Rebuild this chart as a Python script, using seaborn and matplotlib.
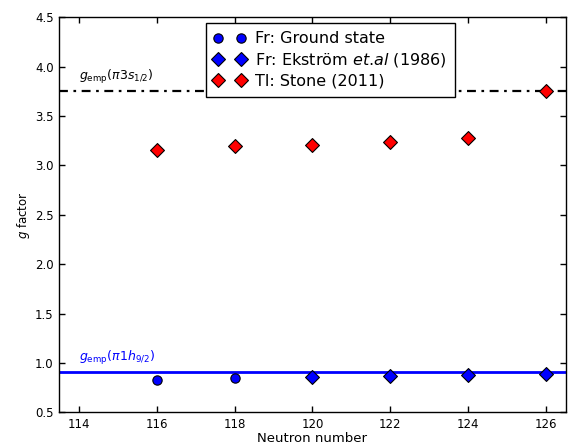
import matplotlib
matplotlib.use("Agg")
import matplotlib.pyplot as plt
from matplotlib.lines import Line2D
import seaborn as sns
import pandas as pd

# Measured g factors versus neutron number
fr_gs_n = [116, 118]
fr_gs_g = [0.83, 0.85]
fr_ek_n = [120, 122, 124, 126]
fr_ek_g = [0.86, 0.87, 0.88, 0.89]
tl_n = [116, 118, 120, 122, 124, 126]
tl_g = [3.16, 3.20, 3.21, 3.24, 3.28, 3.75]

# Empirical single-particle g factors
g_emp_h92 = 0.91
g_emp_s12 = 3.75

series_labels = ["Fr: Ground state", r"Fr: Ekström $et$.$al$ (1986)", "Tl: Stone (2011)"]

sns.set_style("ticks")
plt.rcParams["font.family"] = ["DejaVu Sans"]
plt.rcParams["mathtext.fontset"] = "dejavusans"
plt.rcParams["text.color"] = "black"
plt.rcParams["axes.labelcolor"] = "black"

fig = plt.figure(figsize=(5.74, 4.47), dpi=100)
ax = fig.add_axes([0.1033, 0.0776, 0.8822, 0.8837])

df = pd.concat([
    pd.DataFrame({"N": fr_gs_n, "g": fr_gs_g, "set": series_labels[0]}),
    pd.DataFrame({"N": fr_ek_n, "g": fr_ek_g, "set": series_labels[1]}),
    pd.DataFrame({"N": tl_n, "g": tl_g, "set": series_labels[2]}),
])

styles = [("o", "#0000ff", 45), ("D", "#0000ff", 50), ("D", "#ff0000", 50)]
handles = []
for lab, (mk, col, sz) in zip(series_labels, styles):
    sub = df[df["set"] == lab]
    sns.scatterplot(data=sub, x="N", y="g", marker=mk, color=col, s=sz,
                    edgecolor="black", linewidth=0.8, ax=ax, zorder=3, legend=False)
    handles.append(Line2D([], [], ls="", marker=mk, markersize=sz ** 0.5,
                          markerfacecolor=col, markeredgecolor="black",
                          markeredgewidth=0.8, label=lab))

ax.axhline(g_emp_h92, color="#0000ff", lw=2, zorder=2)
ax.axhline(g_emp_s12, color="black", lw=1.6, dashes=(4, 2.5, 1.2, 2.5), zorder=2)

ax.text(114, g_emp_h92 + 0.05, r"$g_{\mathrm{emp}}(\pi1h_{9/2})$", color="#0000ff",
        fontsize=9, va="bottom", ha="left")
ax.text(114, g_emp_s12 + 0.05, r"$g_{\mathrm{emp}}(\pi3s_{1/2})$", color="black",
        fontsize=9, va="bottom", ha="left")

ax.set_xlim(113.5, 126.5)
ax.set_ylim(0.5, 4.5)
ax.set_xticks(range(114, 127, 2))
ax.set_yticks([0.5 + 0.5 * i for i in range(9)])
ax.set_xlabel("Neutron number", fontsize=9.5, labelpad=1)
ax.set_ylabel(r"$g$ factor", fontsize=8.5, labelpad=2)
ax.tick_params(direction="in", top=True, right=True, length=4, width=1,
               labelsize=8.5, pad=4, colors="black")
for sp in ax.spines.values():
    sp.set_visible(True)
    sp.set_color("black")
    sp.set_linewidth(1)

leg = ax.legend(handles=handles, loc="upper center", bbox_to_anchor=(0.535, 0.985),
                numpoints=2, fontsize=11.5, fancybox=False, framealpha=1,
                edgecolor="black", borderpad=0.5, labelspacing=0.3,
                handlelength=2.0, handletextpad=0.6, borderaxespad=0)
leg.get_frame().set_linewidth(1)
for t in leg.get_texts():
    t.set_color("black")

fig.savefig("out.png", dpi=100)
